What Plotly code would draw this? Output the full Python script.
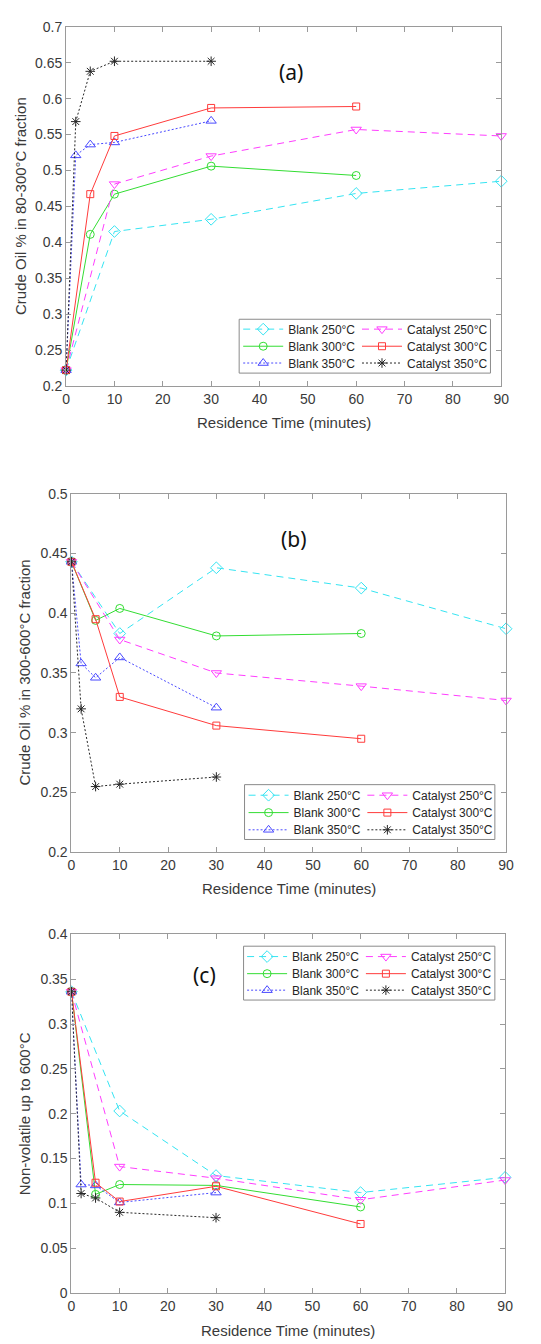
import plotly.graph_objects as go

W, H = 541, 1344

# ---------------- data ----------------
series_names = ["Blank 250°C", "Blank 300°C", "Blank 350°C",
                "Catalyst 250°C", "Catalyst 300°C", "Catalyst 350°C"]

t_250 = [0, 10, 30, 60, 90]
t_300 = [0, 5, 10, 30, 60]
t_350 = [0, 2, 5, 10, 30]

# (a) Crude Oil % in 80-300°C fraction
a_blank250 = [0.222, 0.415, 0.432, 0.468, 0.485]
a_blank300 = [0.222, 0.411, 0.467, 0.506, 0.493]
a_blank350 = [0.222, 0.521, 0.536, 0.539, 0.569]
a_cat250 = [0.222, 0.481, 0.520, 0.557, 0.548]
a_cat300 = [0.222, 0.467, 0.548, 0.587, 0.589]
a_cat350 = [0.222, 0.568, 0.638, 0.652, 0.652]

# (b) Crude Oil % in 300-600°C fraction
b_blank250 = [0.443, 0.383, 0.438, 0.421, 0.387]
b_blank300 = [0.443, 0.394, 0.404, 0.381, 0.383]
b_blank350 = [0.443, 0.358, 0.346, 0.363, 0.321]
b_cat250 = [0.443, 0.378, 0.350, 0.339, 0.327]
b_cat300 = [0.443, 0.395, 0.330, 0.306, 0.295]
b_cat350 = [0.443, 0.320, 0.255, 0.257, 0.263]

# (c) Non-volatile up to 600°C
c_blank250 = [0.336, 0.203, 0.131, 0.112, 0.129]
c_blank300 = [0.336, 0.110, 0.121, 0.120, 0.096]
c_blank350 = [0.336, 0.121, 0.120, 0.101, 0.112]
c_cat250 = [0.336, 0.141, 0.128, 0.104, 0.126]
c_cat300 = [0.336, 0.123, 0.102, 0.119, 0.077]
c_cat350 = [0.336, 0.111, 0.106, 0.090, 0.084]

x_ticks = [0, 10, 20, 30, 40, 50, 60, 70, 80, 90]
y_titles = ["Crude Oil % in 80-300°C fraction",
            "Crude Oil % in 300-600°C fraction",
            "Non-volatile up to 600°C"]
x_title = "Residence Time (minutes)"
panel_labels = ["(a)", "(b)", "(c)"]
y_ranges = [[0.2, 0.7], [0.2, 0.5], [0.0, 0.4]]

# ---------------- styles ----------------
colors = ["#35e4f2", "#33dd33", "#4a4aff", "#ff3dff", "#ff3b3b", "#262626"]
dashes = ["7px,5px", "solid", "2px,2px", "7px,5px", "solid", "2px,2px"]
symbols = ["diamond-open", "circle-open", "triangle-up-open",
           "triangle-down-open", "square-open", "asterisk-open"]
msizes = [9, 8, 9, 9, 7, 8]

FONT = "Liberation Sans, Arial, sans-serif"
AX = "#9a9a9a"
TXT = "#3a3a3a"

# plot-area pixel boxes (left, right, top, bottom)
boxes = [(63.5, 508.5, 19, 382.5), (69, 513.5, 491.5, 854.5), (69, 512.5, 937.5, 1300.5)]
label_pos = [(293, 65), (297, 537), (205, 979)]
xtitle_y = [419, 891, 1338]
ytitle_x = [17, 21, 21]
legend_boxes = [(240.5, 497.5, 315, 369.5), (246, 502, 786, 841.5), (245, 502, 949.5, 1004)]
legend_text_x = [(289.5, 411), (295, 416.5), (293.5, 415)]
legend_rows = [(325, 342.3, 359.3), (796.7, 814.3, 831.7), (960, 977.3, 994)]

ITEMW = 40


def px(x):
    return x / W


def py(y):
    return 1 - y / H


panel_data = [
    [a_blank250, a_blank300, a_blank350, a_cat250, a_cat300, a_cat350],
    [b_blank250, b_blank300, b_blank350, b_cat250, b_cat300, b_cat350],
    [c_blank250, c_blank300, c_blank350, c_cat250, c_cat300, c_cat350],
]
times = [t_250, t_300, t_350, t_250, t_300, t_350]

fig = go.Figure()
layout = dict(width=W, height=H, margin=dict(l=0, r=0, t=0, b=0), autosize=False,
              paper_bgcolor="white", plot_bgcolor="white",
              font=dict(family=FONT, size=14, color=TXT))
shapes = []
annotations = []
leg_n = 0
for p in range(3):
    l, r, t, b = boxes[p]
    sfx = "" if p == 0 else str(p + 1)
    layout["xaxis" + sfx] = dict(
        domain=[px(l), px(r)], range=[0, 90], anchor="y" + sfx,
        tickmode="array", tickvals=x_ticks, ticks="inside", ticklen=5, tickwidth=1,
        tickcolor=AX, showline=True, linecolor=AX, linewidth=1, mirror="ticks",
        showgrid=False, zeroline=False, tickfont=dict(family=FONT, size=14, color=TXT))
    layout["yaxis" + sfx] = dict(
        domain=[py(b), py(t)], range=y_ranges[p], anchor="x" + sfx,
        tick0=0, dtick=0.05, ticks="inside", ticklen=5, tickwidth=1,
        tickcolor=AX, showline=True, linecolor=AX, linewidth=1, mirror="ticks",
        showgrid=False, zeroline=False, tickfont=dict(family=FONT, size=14, color=TXT))
    # legend box
    lb = legend_boxes[p]
    shapes.append(dict(type="rect", xref="paper", yref="paper", x0=px(lb[0]), x1=px(lb[1]),
                       y0=py(lb[3]), y1=py(lb[2]), line=dict(color="#8a8a8a", width=1),
                       fillcolor="white", layer="above"))
    # texts
    annotations.append(dict(text=panel_labels[p], xref="paper", yref="paper",
                            x=px(label_pos[p][0]), y=py(label_pos[p][1]), showarrow=False,
                            xanchor="center", yanchor="middle",
                            font=dict(family="Noto Sans, Open Sans, sans-serif", size=21, color="#111111")))
    annotations.append(dict(text=x_title, xref="paper", yref="paper",
                            x=px((l + r) / 2), y=py(xtitle_y[p]), showarrow=False,
                            xanchor="center", yanchor="middle",
                            font=dict(family=FONT, size=15, color=TXT)))
    annotations.append(dict(text=y_titles[p], xref="paper", yref="paper", textangle=-90,
                            x=px(ytitle_x[p]), y=py((t + b) / 2), showarrow=False,
                            xanchor="center", yanchor="middle",
                            font=dict(family=FONT, size=15, color=TXT)))
    for i in range(6):
        leg_n += 1
        lname = "legend" if leg_n == 1 else "legend%d" % leg_n
        col = i // 3
        row = i % 3
        fig.add_trace(go.Scatter(
            x=times[i], y=panel_data[p][i], name=series_names[i],
            xaxis="x" + sfx, yaxis="y" + sfx, mode="lines+markers",
            line=dict(color=colors[i], width=1, dash=dashes[i]),
            marker=dict(symbol=symbols[i], size=msizes[i], color=colors[i],
                        line=dict(width=1, color=colors[i])),
            cliponaxis=False, legend=lname, showlegend=True))
        layout[lname] = dict(
            x=px(legend_text_x[p][col] - (ITEMW + 10)), xanchor="left",
            y=py(legend_rows[p][row]), yanchor="middle",
            bgcolor="rgba(0,0,0,0)", borderwidth=0, itemwidth=ITEMW,
            font=dict(family=FONT, size=12, color="#262626"))

layout["shapes"] = shapes
layout["annotations"] = annotations
fig.update_layout(**layout)
fig.write_html("out.html")
